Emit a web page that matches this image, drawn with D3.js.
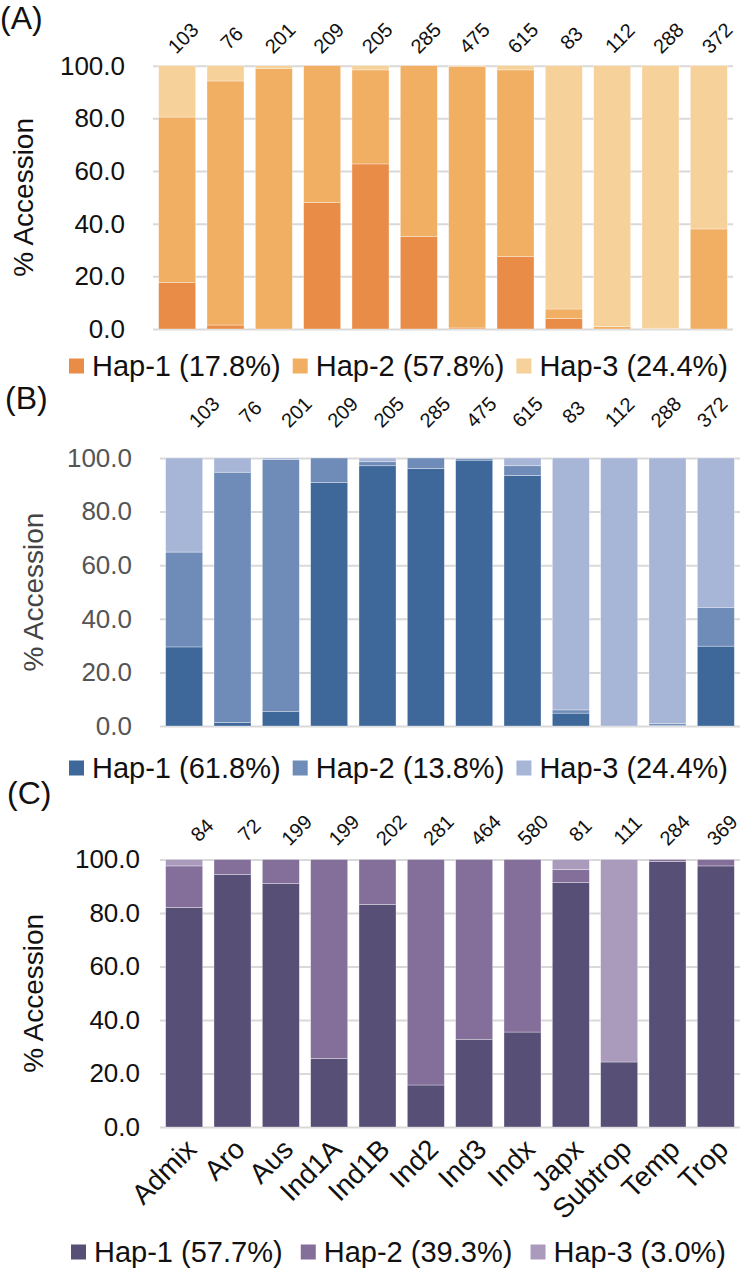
<!DOCTYPE html>
<html>
<head>
<meta charset="utf-8">
<script src="https://cdn.jsdelivr.net/npm/d3@7"></script>
<style>
  html, body { margin: 0; padding: 0; background: #fff; }
  svg text { font-family: "Liberation Sans", Arial, sans-serif; }
</style>
</head>
<body>
<svg id="chart" width="744" height="1270"></svg>
<script>
// ---------------- DATA ----------------
const categories = ["Admix", "Aro", "Aus", "Ind1A", "Ind1B", "Ind2", "Ind3", "Indx", "Japx", "Subtrop", "Temp", "Trop"];
const countsAB = [103, 76, 201, 209, 205, 285, 475, 615, 83, 112, 288, 372];
const countsC  = [84, 72, 199, 199, 202, 281, 464, 580, 81, 111, 284, 369];
const yTicks = [0, 20, 40, 60, 80, 100];

// Panel A (% accessions per haplotype)
const hapA1 = [17.6, 1.5, 0.0, 48.0, 62.7, 35.1, 0.4, 27.5, 4.0, 0.0, 0.0, 0.0];
const hapA2 = [62.9, 92.7, 99.0, 52.0, 35.7, 64.9, 99.4, 70.9, 3.6, 0.9, 0.3, 38.0];
const hapA3 = [19.5, 5.8, 1.0, 0.0, 1.6, 0.0, 0.2, 1.6, 92.4, 99.1, 99.7, 62.0];
const legendA = ["Hap-1 (17.8%)", "Hap-2 (57.8%)", "Hap-3 (24.4%)"];

// Panel B
const hapB1 = [29.5, 1.3, 5.5, 90.9, 97.1, 96.1, 99.2, 93.5, 4.8, 0.0, 0.3, 29.8];
const hapB2 = [35.4, 93.4, 94.0, 9.1, 1.5, 3.9, 0.6, 3.6, 1.2, 0.0, 0.7, 14.5];
const hapB3 = [35.1, 5.3, 0.5, 0.0, 1.4, 0.0, 0.2, 2.9, 94.0, 100.0, 99.0, 55.7];
const legendB = ["Hap-1 (61.8%)", "Hap-2 (13.8%)", "Hap-3 (24.4%)"];

// Panel C
const hapC1 = [82.1, 94.4, 91.0, 25.6, 83.2, 15.7, 32.8, 35.5, 91.4, 24.3, 99.3, 97.6];
const hapC2 = [15.5, 5.6, 9.0, 74.4, 16.8, 84.3, 67.2, 64.5, 4.9, 0.0, 0.7, 2.4];
const hapC3 = [2.4, 0.0, 0.0, 0.0, 0.0, 0.0, 0.0, 0.0, 3.7, 75.7, 0.0, 0.0];
const legendC = ["Hap-1 (57.7%)", "Hap-2 (39.3%)", "Hap-3 (3.0%)"];

// ---------------- LAYOUT / STYLE ----------------
const panels = [
  { tag: "(A)", series: [hapA1, hapA2, hapA3], legend: legendA, counts: countsAB,
    colors: ["#E98C48", "#F0AF62", "#F7D19A"],
    y0: 329, y100: 65.7, x0: 153, x1: 733, tickRight: 125, tickColor: "#111",
    titleX: 23, countRange: [183, 717], countY: 38, tagY: 18, tagX: 0,
    legendY: 366, legendSpan: [69, 728], showCats: false },
  { tag: "(B)", series: [hapB1, hapB2, hapB3], legend: legendB, counts: countsAB,
    colors: ["#3E679A", "#6F8BB8", "#A7B5D7"],
    y0: 726, y100: 458, x0: 160, x1: 740, tickRight: 132, tickColor: "#555",
    titleX: 33, countRange: [204, 712], countY: 412, tagY: 398, tagX: 5,
    legendY: 768, legendSpan: [69, 728], showCats: false },
  { tag: "(C)", series: [hapC1, hapC2, hapC3], legend: legendC, counts: countsC,
    colors: ["#574F76", "#836F9A", "#AA9BBD"],
    y0: 1127, y100: 859.5, x0: 160, x1: 740, tickRight: 140, tickColor: "#111",
    titleX: 33, countRange: [202, 722], countY: 830, tagY: 793, tagX: 7,
    legendY: 1252, legendSpan: [71, 726], showCats: true }
];

const svg = d3.select("#chart");
const keys = ["h1", "h2", "h3"];

panels.forEach(p => {
  const g = svg.append("g");
  const x = d3.scaleBand().domain(categories).range([p.x0, p.x1])
    .paddingInner(0.234).paddingOuter(0.117);
  const y = d3.scaleLinear().domain([0, 100]).range([p.y0, p.y100]);

  // gridlines + tick labels
  const axis = d3.axisLeft(y).tickValues(yTicks).tickFormat(d3.format(".1f"))
    .tickSize(-(p.x1 - p.x0)).tickPadding(p.x0 - p.tickRight);
  const ag = g.append("g").attr("transform", `translate(${p.x0},0)`).call(axis);
  ag.select(".domain").remove();
  ag.selectAll(".tick line").attr("stroke", "#D9D9D9").attr("stroke-width", 2);
  ag.selectAll(".tick text").attr("fill", p.tickColor)
    .style("font-size", "26px");

  // stacked bars
  const rows = categories.map((c, i) => ({ cat: c, h1: p.series[0][i], h2: p.series[1][i], h3: p.series[2][i] }));
  const stacked = d3.stack().keys(keys)(rows);
  stacked.forEach((layer, li) => {
    g.append("g").selectAll("rect").data(layer).join("rect")
      .attr("x", d => x(d.data.cat))
      .attr("width", x.bandwidth())
      .attr("y", d => y(d[1]))
      .attr("height", d => Math.max(0, y(d[0]) - y(d[1])))
      .attr("fill", p.colors[li])
      .attr("stroke", "rgba(255,255,255,0.55)")
      .attr("stroke-width", 0.6);
  });

  // sample counts above bars
  const cx = d3.scalePoint().domain(categories).range(p.countRange);
  g.append("g").selectAll("text").data(p.counts).join("text")
    .attr("transform", (d, i) => `translate(${cx(categories[i])},${p.countY}) rotate(-45)`)
    .attr("text-anchor", "middle").attr("dy", "0.35em")
    .style("font-size", "20px").attr("fill", "#111")
    .text(d => d);

  // panel tag
  g.append("text").attr("x", p.tagX).attr("y", p.tagY).attr("dy", "0.35em")
    .style("font-size", "32px").attr("fill", "#111").text(p.tag);

  // y title
  g.append("text")
    .attr("transform", `translate(${p.titleX},${(p.y0 + p.y100) / 2}) rotate(-90)`)
    .attr("text-anchor", "middle").attr("dy", "0.35em")
    .style("font-size", "28px").attr("fill", p.tickColor === "#555" ? "#444" : "#111")
    .text("% Accession");

  // category labels
  if (p.showCats) {
    g.append("g").selectAll("text").data(categories).join("text")
      .attr("transform", d => `translate(${x(d) + x.bandwidth() / 2},${p.y0 + 10}) rotate(-45)`)
      .attr("text-anchor", "end").attr("dy", "0.71em")
      .style("font-size", "28px").attr("fill", "#111")
      .text(d => d);
  }

  // legend
  const lg = g.append("g");
  const sq = 15, sqGap = 8;
  const items = p.legend.map((t, i) => {
    const it = lg.append("g");
    it.append("rect").attr("width", sq).attr("height", sq)
      .attr("y", -sq / 2).attr("fill", p.colors[i]);
    const tx = it.append("text").attr("x", sq + sqGap).attr("dy", "0.35em")
      .style("font-size", "29px").attr("fill", "#111").text(t);
    return { it, w: sq + sqGap + tx.node().getComputedTextLength() };
  });
  const total = d3.sum(items, d => d.w);
  const gap = ((p.legendSpan[1] - p.legendSpan[0]) - total) / (items.length - 1);
  let pos = p.legendSpan[0];
  items.forEach(d => {
    d.it.attr("transform", `translate(${pos},${p.legendY})`);
    pos += d.w + gap;
  });
});
</script>
</body>
</html>
